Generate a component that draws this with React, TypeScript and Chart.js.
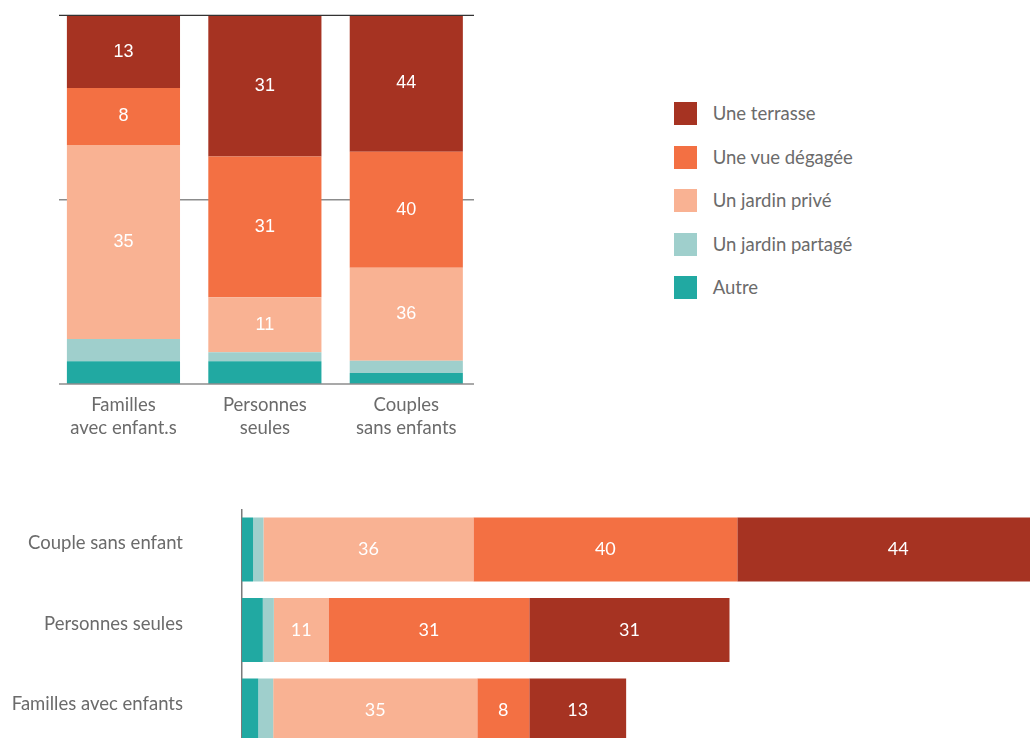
import React, { useEffect, useRef } from "react";
import { Chart, registerables } from "chart.js";
Chart.register(...registerables);

// Series (stack order: bottom → top)
const seriesNames = ["Autre", "Un jardin partagé", "Un jardin privé", "Une vue dégagée", "Une terrasse"];
const seriesColors = ["#21A9A2", "#9FCFCC", "#F9B293", "#F37043", "#A63322"];

// Top chart: share of the column height (%) and displayed labels
const topCategories = [["Familles", "avec enfant.s"], ["Personnes", "seules"], ["Couples", "sans enfants"]];
const topAutre = [6.2, 6.2, 3.0];
const topPartage = [6.0, 2.4, 3.3];
const topPrive = [52.6, 14.9, 25.2];
const topVue = [15.5, 38.2, 31.5];
const topTerrasse = [19.7, 38.3, 37.0];
const topPriveLabels = ["35", "11", "36"];
const topVueLabels = ["8", "31", "40"];
const topTerrasseLabels = ["13", "31", "44"];
const topTicks = [0, 50, 100];

// Bottom chart: bar lengths and displayed labels
const bottomCategories = ["Couple sans enfant", "Personnes seules", "Familles avec enfants"];
const bottomAutre = [1.7, 3.2, 2.5];
const bottomPartage = [1.6, 1.7, 2.3];
const bottomPrive = [32.3, 8.4, 31.4];
const bottomVue = [40.6, 30.9, 8.0];
const bottomTerrasse = [49.5, 30.8, 14.9];
const bottomPriveLabels = ["36", "11", "35"];
const bottomVueLabels = ["40", "31", "8"];
const bottomTerrasseLabels = ["44", "31", "13"];

const TEXT = "#6b6b6b";
const FONT_SIZE = 18.5;

function makeLabelPlugin(fontFamily: string) {
  return {
    id: "valueLabels",
    afterDatasetsDraw(chart: any) {
      const ctx = chart.ctx;
      ctx.save();
      ctx.fillStyle = "#ffffff";
      ctx.font = `18px ${fontFamily}`;
      ctx.textAlign = "center";
      ctx.textBaseline = "middle";
      chart.data.datasets.forEach((ds: any, i: number) => {
        if (!ds.valueLabels) return;
        const meta = chart.getDatasetMeta(i);
        meta.data.forEach((el: any, j: number) => {
          const t = ds.valueLabels[j];
          if (t == null) return;
          const p = el.getCenterPoint();
          ctx.fillText(t, p.x, p.y);
        });
      });
      ctx.restore();
    },
  };
}

function drawH(chart: any, v: number, color: string, w: number) {
  const { ctx, chartArea } = chart;
  const y = chart.scales.y.getPixelForValue(v);
  ctx.save();
  ctx.strokeStyle = color;
  ctx.lineWidth = w;
  ctx.beginPath();
  ctx.moveTo(chartArea.left + 6.25, y);
  ctx.lineTo(chartArea.right - 3, y);
  ctx.stroke();
  ctx.restore();
}

const topGridPlugin = {
  id: "topGrid",
  beforeDatasetsDraw(chart: any) {
    topTicks.slice(1, -1).forEach((v) => drawH(chart, v, "#8c8c8c", 1.5));
  },
  afterDatasetsDraw(chart: any) {
    drawH(chart, topTicks[0], "#8c8c8c", 1.5);
    drawH(chart, topTicks[topTicks.length - 1], "#333333", 1.3);
  },
};

function TopChart() {
  const ref = useRef<HTMLCanvasElement>(null);
  useEffect(() => {
    const values = [topAutre, topPartage, topPrive, topVue, topTerrasse];
    const labels = [null, null, topPriveLabels, topVueLabels, topTerrasseLabels];
    const chart = new Chart(ref.current!, {
      type: "bar",
      data: {
        labels: topCategories as any,
        datasets: values.map((d, i) => ({
          label: seriesNames[i],
          data: d,
          backgroundColor: seriesColors[i],
          borderWidth: 0,
          barPercentage: 0.8,
          categoryPercentage: 1,
          valueLabels: labels[i],
        })) as any,
      },
      options: {
        responsive: false,
        animation: false,
        layout: { padding: { left: 52.75, right: 13, top: 15.3, bottom: 0 } },
        plugins: { legend: { display: false }, tooltip: { enabled: false } },
        scales: {
          x: {
            stacked: true,
            grid: { display: false, drawTicks: false },
            border: { display: false },
            ticks: {
              color: TEXT,
              font: { family: "Lato", size: FONT_SIZE, lineHeight: 1.22 },
              padding: 10,
              maxRotation: 0,
              autoSkip: false,
            },
            afterFit: (axis: any) => {
              axis.height = 61;
            },
          },
          y: { stacked: true, display: false, min: 0, max: 100 },
        },
      },
      plugins: [topGridPlugin, makeLabelPlugin("'Liberation Sans', Arial, sans-serif")],
    });
    return () => chart.destroy();
  }, []);
  return (
    <canvas
      ref={ref}
      width={490}
      height={445}
      style={{ position: "absolute", left: 0, top: 0, width: 490, height: 445 }}
    />
  );
}

function BottomChart() {
  const ref = useRef<HTMLCanvasElement>(null);
  useEffect(() => {
    const values = [bottomAutre, bottomPartage, bottomPrive, bottomVue, bottomTerrasse];
    const labels = [null, null, bottomPriveLabels, bottomVueLabels, bottomTerrasseLabels];
    const chart = new Chart(ref.current!, {
      type: "bar",
      data: {
        labels: bottomCategories,
        datasets: values.map((d, i) => ({
          label: seriesNames[i],
          data: d,
          backgroundColor: seriesColors[i],
          borderWidth: 0,
          barPercentage: 1,
          categoryPercentage: 0.795,
          valueLabels: labels[i],
        })) as any,
      },
      options: {
        indexAxis: "y",
        responsive: false,
        animation: false,
        layout: { padding: { left: 0, right: 13, top: 14.25, bottom: 4.25 } },
        plugins: { legend: { display: false }, tooltip: { enabled: false } },
        scales: {
          x: { stacked: true, display: false, min: 0, max: 130 },
          y: {
            stacked: true,
            grid: { display: false, drawTicks: false },
            border: { display: true, color: "#7a7a7a", width: 1.5 },
            ticks: {
              color: TEXT,
              font: { family: "Lato", size: FONT_SIZE },
              padding: 59,
              labelOffset: -6,
              autoSkip: false,
            },
            afterFit: (axis: any) => {
              axis.width = 242;
              axis.paddingTop = 0;
              axis.paddingBottom = 0;
            },
          },
        },
      },
      plugins: [makeLabelPlugin("Lato, sans-serif")],
    });
    return () => chart.destroy();
  }, []);
  return (
    <canvas
      ref={ref}
      width={1100}
      height={260}
      style={{ position: "absolute", left: 0, top: 495, width: 1100, height: 260 }}
    />
  );
}

function Legend() {
  const order = [4, 3, 2, 1, 0];
  return (
    <div style={{ position: "absolute", left: 674, top: 102 }}>
      {order.map((i) => (
        <div
          key={i}
          style={{ display: "flex", alignItems: "center", height: 23, marginBottom: 20.5 }}
        >
          <div style={{ width: 23, height: 23, background: seriesColors[i] }} />
          <span
            style={{
              marginLeft: 15.7,
              fontFamily: "Lato, sans-serif",
              fontSize: FONT_SIZE,
              color: TEXT,
              whiteSpace: "nowrap",
              lineHeight: "23px",
            }}
          >
            {seriesNames[i]}
          </span>
        </div>
      ))}
    </div>
  );
}

export default function App() {
  return (
    <div
      style={{
        position: "fixed",
        left: 0,
        top: 0,
        width: 1030,
        height: 738,
        overflow: "hidden",
        background: "#ffffff",
        fontFamily: "Lato, sans-serif",
      }}
    >
      <TopChart />
      <Legend />
      <BottomChart />
    </div>
  );
}
